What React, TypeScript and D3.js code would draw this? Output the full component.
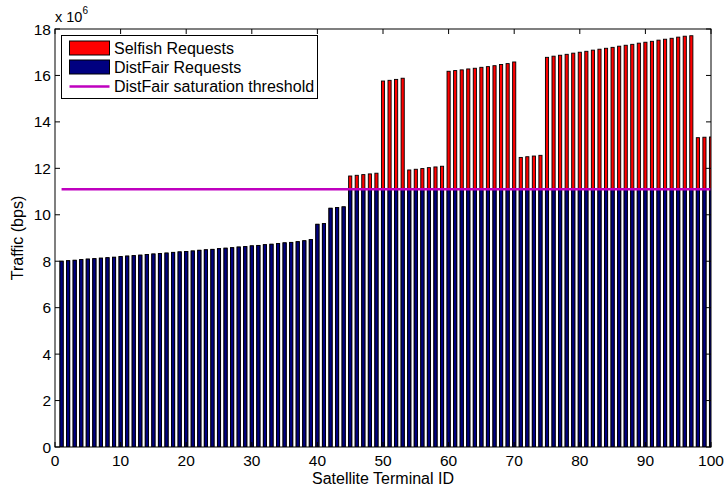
import React, { useRef, useEffect } from 'react';
import * as d3 from 'd3';

// Terminal IDs 1..100
const terminalIds: number[] = Array.from({ length: 100 }, (_, i) => i + 1);

// Selfish requests (x 10^6 bps)
const selfishRequests: number[] = [
  8.00, 8.02, 8.04, 8.07, 8.09, 8.11, 8.13, 8.15, 8.17, 8.20,
  8.22, 8.24, 8.26, 8.29, 8.31, 8.33, 8.35, 8.38, 8.40, 8.42,
  8.44, 8.47, 8.49, 8.51, 8.54, 8.56, 8.58, 8.61, 8.63, 8.66,
  8.68, 8.71, 8.73, 8.76, 8.79, 8.81, 8.84, 8.88, 8.93, 9.59,
  9.62, 10.28, 10.31, 10.34, 11.67, 11.70, 11.73, 11.76, 11.79, 15.76,
  15.79, 15.83, 15.88, 11.93, 11.96, 11.99, 12.03, 12.06, 12.09, 16.18,
  16.21, 16.24, 16.28, 16.31, 16.35, 16.38, 16.42, 16.47, 16.51, 16.58,
  12.47, 12.50, 12.53, 12.56, 16.78, 16.83, 16.87, 16.91, 16.96, 17.00,
  17.04, 17.09, 17.13, 17.17, 17.21, 17.26, 17.30, 17.34, 17.39, 17.43,
  17.47, 17.52, 17.56, 17.60, 17.65, 17.69, 17.71, 13.32, 13.34, 13.35,
];

// DistFair requests (x 10^6 bps)
const distFairRequests: number[] = [
  8.00, 8.02, 8.04, 8.07, 8.09, 8.11, 8.13, 8.15, 8.17, 8.20,
  8.22, 8.24, 8.26, 8.29, 8.31, 8.33, 8.35, 8.38, 8.40, 8.42,
  8.44, 8.47, 8.49, 8.51, 8.54, 8.56, 8.58, 8.61, 8.63, 8.66,
  8.68, 8.71, 8.73, 8.76, 8.79, 8.81, 8.84, 8.88, 8.93, 9.59,
  9.62, 10.28, 10.31, 10.34, 11.10, 11.10, 11.10, 11.10, 11.10, 11.10,
  11.10, 11.10, 11.10, 11.10, 11.10, 11.10, 11.10, 11.10, 11.10, 11.10,
  11.10, 11.10, 11.10, 11.10, 11.10, 11.10, 11.10, 11.10, 11.10, 11.10,
  11.10, 11.10, 11.10, 11.10, 11.10, 11.10, 11.10, 11.10, 11.10, 11.10,
  11.10, 11.10, 11.10, 11.10, 11.10, 11.10, 11.10, 11.10, 11.10, 11.10,
  11.10, 11.10, 11.10, 11.10, 11.10, 11.10, 11.10, 11.10, 11.10, 11.10,
];

const saturationThreshold = 11.1;

const xTicks: number[] = [0, 10, 20, 30, 40, 50, 60, 70, 80, 90, 100];
const yTicks: number[] = [0, 2, 4, 6, 8, 10, 12, 14, 16, 18];

const legendLabels: string[] = ['Selfish Requests', 'DistFair Requests', 'DistFair saturation threshold'];

const FONT = '"Liberation Sans", Arial, Helvetica, sans-serif';

const App = () => {
  const svgRef = useRef<SVGSVGElement>(null);

  useEffect(() => {
    const width = 724;
    const height = 489;
    const margin = { top: 29, right: 13, bottom: 42, left: 55 };

    const svg = d3.select(svgRef.current)
      .attr('width', width)
      .attr('height', height);

    svg.selectAll('*').remove();

    const x = d3.scaleLinear()
      .domain([0, 100])
      .range([margin.left, width - margin.right]);

    const y = d3.scaleLinear()
      .domain([0, 18])
      .range([height - margin.bottom, margin.top]);

    const barW = (x(1) - x(0)) * 0.48;

    svg.append('rect')
      .attr('width', width).attr('height', height).attr('fill', '#fff');

    svg.append('clipPath').attr('id', 'plot-clip')
      .append('rect')
      .attr('x', x(0)).attr('y', y(18))
      .attr('width', x(100) - x(0)).attr('height', y(0) - y(18));

    const plot = svg.append('g').attr('clip-path', 'url(#plot-clip)');

    // Selfish requests (red), behind
    plot.selectAll('.selfish')
      .data(terminalIds)
      .enter()
      .append('rect')
      .attr('x', d => x(d) - barW / 2)
      .attr('y', (d, i) => y(selfishRequests[i]))
      .attr('width', barW)
      .attr('height', (d, i) => y(0) - y(selfishRequests[i]))
      .attr('fill', '#ff0000')
      .attr('stroke', '#000')
      .attr('stroke-width', 0.9);

    // DistFair requests (navy), in front
    plot.selectAll('.distfair')
      .data(terminalIds)
      .enter()
      .append('rect')
      .attr('x', d => x(d) - barW / 2)
      .attr('y', (d, i) => y(distFairRequests[i]))
      .attr('width', barW)
      .attr('height', (d, i) => y(0) - y(distFairRequests[i]))
      .attr('fill', '#000080')
      .attr('stroke', '#000')
      .attr('stroke-width', 0.9);

    // saturation threshold line
    const line = d3.line<number>()
      .x(d => x(d))
      .y(() => y(saturationThreshold));

    plot.append('path')
      .datum([1, 100])
      .attr('d', line)
      .attr('fill', 'none')
      .attr('stroke', '#bf00bf')
      .attr('stroke-width', 2.4);

    // axes box
    svg.append('rect')
      .attr('x', x(0)).attr('y', y(18))
      .attr('width', x(100) - x(0)).attr('height', y(0) - y(18))
      .attr('fill', 'none')
      .attr('stroke', '#000')
      .attr('stroke-width', 1);

    const tickLen = 5;

    // x ticks (bottom + top, inward)
    xTicks.forEach(t => {
      svg.append('line')
        .attr('x1', x(t)).attr('x2', x(t))
        .attr('y1', y(0)).attr('y2', y(0) - tickLen)
        .attr('stroke', '#000');
      svg.append('line')
        .attr('x1', x(t)).attr('x2', x(t))
        .attr('y1', y(18)).attr('y2', y(18) + tickLen)
        .attr('stroke', '#000');
      svg.append('text')
        .attr('x', x(t))
        .attr('y', y(0) + 19)
        .attr('text-anchor', 'middle')
        .style('font-family', FONT)
        .style('font-size', '15.5px')
        .text(t);
    });

    // y ticks (left + right, inward)
    yTicks.forEach(t => {
      svg.append('line')
        .attr('x1', x(0)).attr('x2', x(0) + tickLen)
        .attr('y1', y(t)).attr('y2', y(t))
        .attr('stroke', '#000');
      svg.append('line')
        .attr('x1', x(100)).attr('x2', x(100) - tickLen)
        .attr('y1', y(t)).attr('y2', y(t))
        .attr('stroke', '#000');
      svg.append('text')
        .attr('x', x(0) - 4)
        .attr('y', y(t) + 5.5)
        .attr('text-anchor', 'end')
        .style('font-family', FONT)
        .style('font-size', '15.5px')
        .text(t);
    });

    // exponent label
    const expo = svg.append('text')
      .attr('x', x(0))
      .attr('y', 22)
      .style('font-family', FONT)
      .style('font-size', '14.5px');
    expo.append('tspan').text('x 10');
    expo.append('tspan')
      .attr('dy', -8)
      .style('font-size', '10px')
      .text('6');

    // axis labels
    svg.append('text')
      .attr('x', (x(0) + x(100)) / 2)
      .attr('y', 484)
      .attr('text-anchor', 'middle')
      .style('font-family', FONT)
      .style('font-size', '16px')
      .text('Satellite Terminal ID');

    svg.append('text')
      .attr('transform', `translate(23,${(y(0) + y(18)) / 2}) rotate(-90)`)
      .attr('text-anchor', 'middle')
      .style('font-family', FONT)
      .style('font-size', '16px')
      .text('Traffic (bps)');

    // legend
    const legend = svg.append('g');
    legend.append('rect')
      .attr('x', 61.5).attr('y', 35.5)
      .attr('width', 256).attr('height', 63)
      .attr('fill', '#fff')
      .attr('stroke', '#000');

    const rowY = [48, 67, 86.5];
    legend.append('rect')
      .attr('x', 69.5).attr('y', rowY[0] - 7)
      .attr('width', 40).attr('height', 14)
      .attr('fill', '#ff0000').attr('stroke', '#000');
    legend.append('rect')
      .attr('x', 69.5).attr('y', rowY[1] - 7)
      .attr('width', 40).attr('height', 14)
      .attr('fill', '#000080').attr('stroke', '#000');
    legend.append('line')
      .attr('x1', 69.5).attr('x2', 109.5)
      .attr('y1', rowY[2]).attr('y2', rowY[2])
      .attr('stroke', '#bf00bf')
      .attr('stroke-width', 2.4);

    legendLabels.forEach((label, i) => {
      legend.append('text')
        .attr('x', 114)
        .attr('y', rowY[i] + 5.5)
        .style('font-family', FONT)
        .style('font-size', '16px')
        .text(label);
    });
  }, []);

  return (
    <svg ref={svgRef} style={{ position: 'absolute', left: 0, top: 0, display: 'block' }}></svg>
  );
};

export default App;
